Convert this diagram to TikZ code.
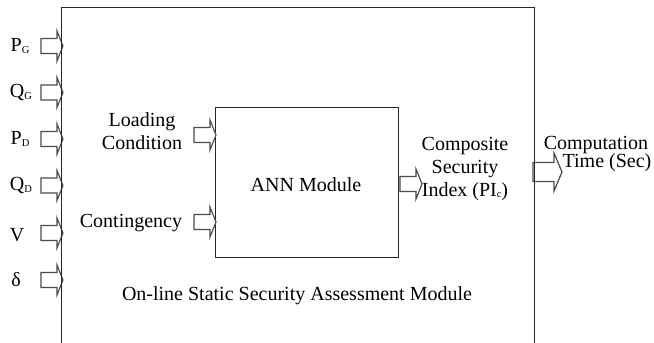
\documentclass[tikz,border=0pt]{standalone}
\usepackage{fontspec}
\setmainfont{Liberation Serif}
\newcommand{\sbs}[1]{\raisebox{-1.5pt}{\fontsize{10.5}{10.5}\selectfont #1}}
\begin{document}
\begin{tikzpicture}[x=1pt,y=-1pt,
  lbl/.style={inner sep=0pt,text=black,font=\fontsize{20}{23}\selectfont,align=center},
  frame/.style={draw=black!85,line width=1.4pt},
  pics/barrow/.style={code={
    \draw[draw=black!70,fill=white,line width=1.2pt,line join=miter]
      (-22,7.5) -- (-6,7.5) -- (-6,15) -- (0,0) -- (-6,-15) -- (-6,-7.5) -- (-22,-7.5) -- cycle;}},
  pics/bigarrow/.style={code={
    \draw[draw=black!70,fill=white,line width=1.2pt,line join=miter]
      (-29,9.5) -- (-8,9.5) -- (-8,19) -- (0,0) -- (-8,-19) -- (-8,-9.5) -- (-29,-9.5) -- cycle;}}
]
\useasboundingbox (0,0) rectangle (654,343);
\clip (0,0) rectangle (654,343);
\fill[white] (0,0) rectangle (654,343);

% input arrows (left)
\foreach \yy/\nm in {46/a1,92.5/a2,139/a3,185.5/a4,233/a5,280/a6}
  \pic (\nm) at (63,\yy) {barrow};
% ANN output arrow
\pic (oa) at (422,184) {barrow};
% final output arrow
\pic (fa) at (562,172) {bigarrow};

% outer module
\node[frame,draw,minimum width=473pt,minimum height=400pt,anchor=north west,inner sep=0pt] (outer) at (61,7) {};
% ANN box
\node[frame,draw,fill=white,minimum width=183pt,minimum height=150pt,anchor=north west,inner sep=0pt] (ann) at (215,107) {};
% inner input arrows
\pic (la) at (216,135) {barrow};
\pic (ca) at (216,222) {barrow};

% labels
\node[lbl] (pg) at (20,46) {P\sbs{G}};
\node[lbl] (qg) at (21,92.5) {Q\sbs{G}};
\node[lbl] (pd) at (20,139) {P\sbs{D}};
\node[lbl] (qd) at (21,185.5) {Q\sbs{D}};
\node[lbl] (v) at (17,235) {V};
\node[lbl] (d) at (16,280) {δ};
\node[lbl] (load) at (142,131) {Loading\\Condition};
\node[lbl] (cont) at (131,223) {Contingency};
\node[lbl] (annt) at (306,185) {ANN Module};
\node[lbl] (comp) at (465,169) {Composite\\Security\\Index (PI\sbs{c})};
\node[lbl] (ct1) at (596,145) {Computation};
\node[lbl] (ct2) at (607,163) {Time (Sec)};
\node[lbl] (mod) at (297,296) {On-line Static Security Assessment Module};
\end{tikzpicture}
\end{document}
